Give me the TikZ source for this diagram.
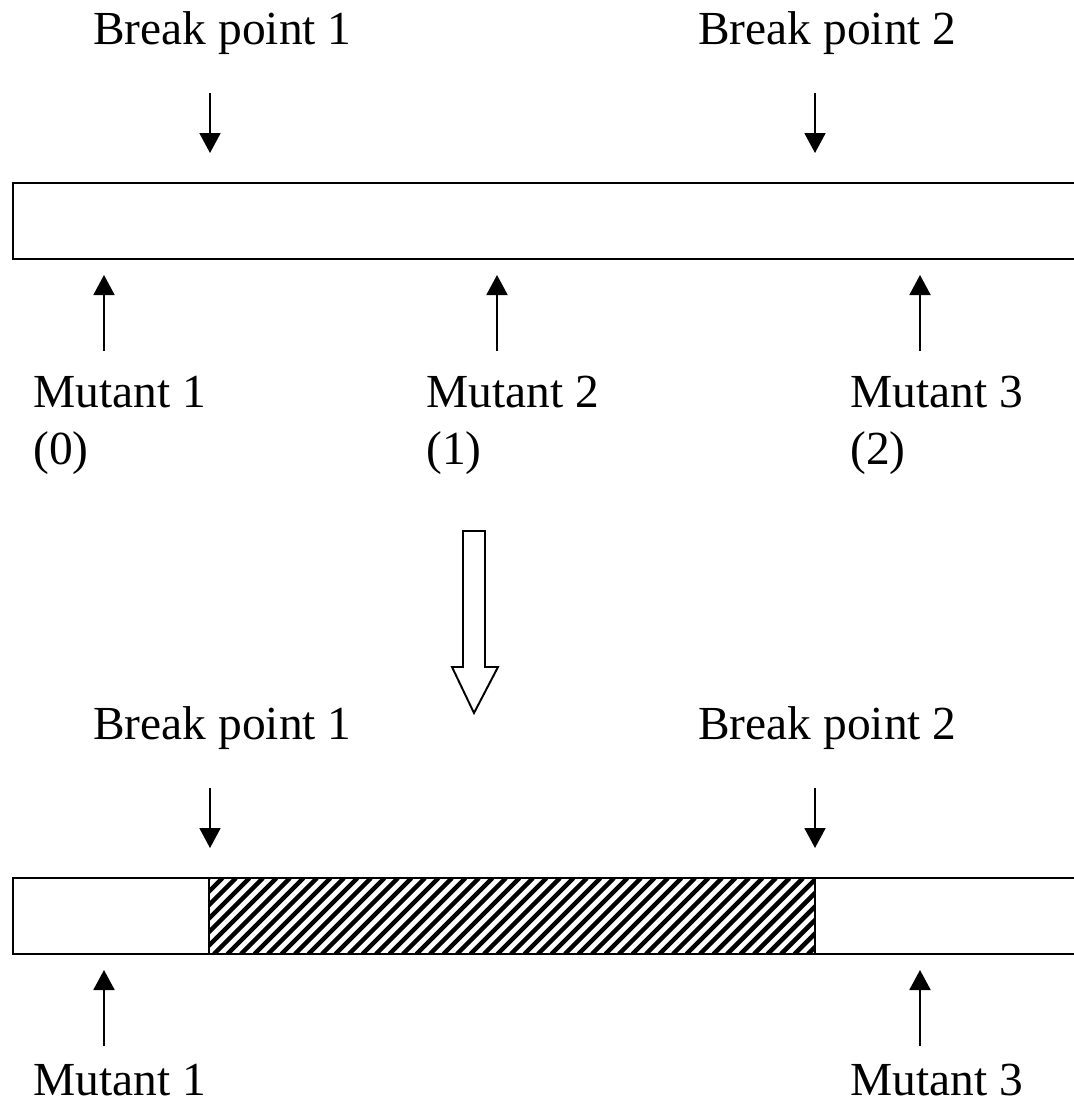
\documentclass[tikz,border=0pt]{standalone}
\usepackage{fontspec}
\setmainfont{Liberation Serif}
\usetikzlibrary{arrows.meta}

\tikzset{
  lbl/.style={anchor=base west, inner sep=0pt, text depth=0pt, font=\fontsize{27}{32}\selectfont},
  pointer/.style={-{Triangle[width=0.42cm,length=0.4cm]}, line width=1.1pt},
  barline/.style={line width=1.2pt},
  hatchline/.style={line width=2.6pt},
}

\begin{document}
\begin{tikzpicture}[x=0.02cm, y=-0.02cm]
  \useasboundingbox (0,0) rectangle (1074,1106);

  \begin{scope}[shift={(0,0)}]

    % break points
    \node[lbl] (bpa) at (93,44) {Break point 1};
    \node[lbl] (bpb) at (698,44) {Break point 2};
    \coordinate (bpatail) at (210,93);  \coordinate (bpatip) at (210,153);
    \coordinate (bpbtail) at (815,93);  \coordinate (bpbtip) at (815,153);
    \draw[pointer] (bpatail) -- (bpatip);
    \draw[pointer] (bpbtail) -- (bpbtip);

    % the sequence
    \draw[barline] (1090,183) -- (13,183) -- (13,259) -- (1090,259);

    % mutants
    \coordinate (mutatail) at (104,351); \coordinate (mutatip) at (104,275);
    \coordinate (mutbtail) at (497,351); \coordinate (mutbtip) at (497,275);
    \coordinate (mutctail) at (920,351); \coordinate (mutctip) at (920,275);
    \draw[pointer] (mutatail) -- (mutatip);
    \draw[pointer] (mutbtail) -- (mutbtip);
    \draw[pointer] (mutctail) -- (mutctip);
    \node[lbl] (muta) at (33,407) {Mutant 1};
    \node[lbl] (mutb) at (426,407) {Mutant 2};
    \node[lbl] (mutc) at (850,407) {Mutant 3};
    \node[lbl] (cnta) at (33,464) {(0)};
    \node[lbl] (cntb) at (426,464) {(1)};
    \node[lbl] (cntc) at (850,464) {(2)};

  \end{scope}

  % hollow arrow
  \draw[line width=1.1pt] (463,531) -- (485,531) -- (485,667) -- (498,667)
    -- (474,713) -- (452,667) -- (463,667) -- cycle;

  \begin{scope}[shift={(0,695)}]

    % break points
    \node[lbl] (bpc) at (93,44) {Break point 1};
    \node[lbl] (bpd) at (698,44) {Break point 2};
    \coordinate (bpctail) at (210,93);  \coordinate (bpctip) at (210,153);
    \coordinate (bpdtail) at (815,93);  \coordinate (bpdtip) at (815,153);
    \draw[pointer] (bpctail) -- (bpctip);
    \draw[pointer] (bpdtail) -- (bpdtip);

    % the sequence, with the hatched segment
    \draw[barline] (1090,183) -- (13,183) -- (13,259) -- (1090,259);
    \begin{scope}
      \clip (209,183) rectangle (815,259);
      \fill[white] (209,183) rectangle (815,259);
      \foreach \k in {0,...,51}
        \draw[hatchline] ({133+13.5*\k},259) -- ({209+13.5*\k},183);
    \end{scope}
    \draw[line width=1.5pt] (209,183) rectangle (815,259);

    % mutants
    \coordinate (mutdtail) at (104,351); \coordinate (mutdtip) at (104,275);
    \coordinate (mutetail) at (920,351); \coordinate (mutetip) at (920,275);
    \draw[pointer] (mutdtail) -- (mutdtip);
    \draw[pointer] (mutetail) -- (mutetip);
    \node[lbl] (mutd) at (33,400) {Mutant 1};
    \node[lbl] (mute) at (850,400) {Mutant 3};

  \end{scope}
\end{tikzpicture}
\end{document}
